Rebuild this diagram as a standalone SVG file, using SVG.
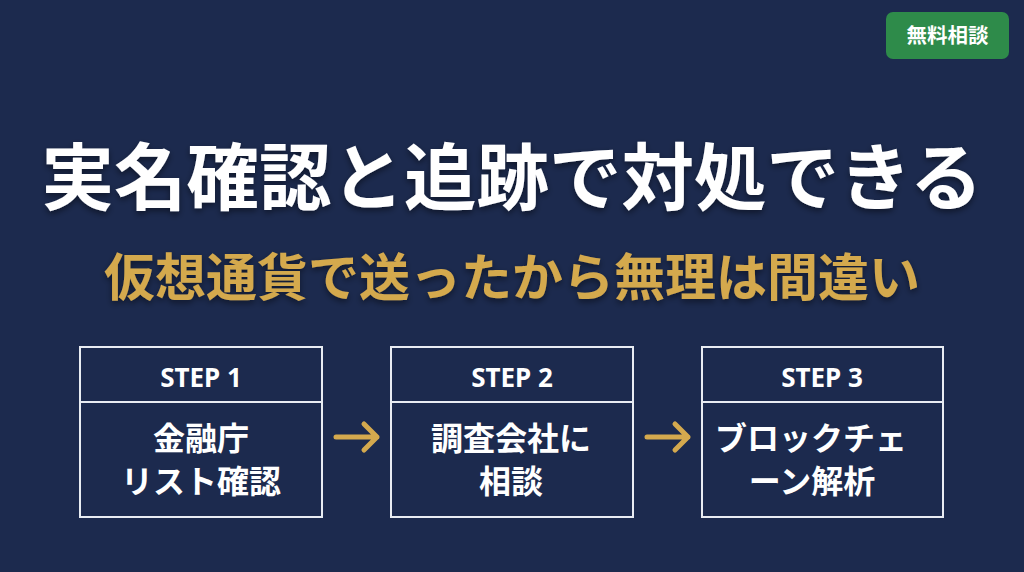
<svg xmlns="http://www.w3.org/2000/svg" width="1024" height="572" viewBox="0 0 1024 572">
<defs>
<style>
.jp{font-family:"Noto Sans CJK JP","Noto Sans",sans-serif;font-weight:700;text-anchor:middle}
.step{font-family:"Noto Sans","Open Sans",sans-serif;font-weight:700;font-size:26px;fill:#ffffff;text-anchor:middle}
.box{fill:none;stroke:#e8ecf2;stroke-width:2}
.body{font-size:32px;fill:#ffffff}
.arr{fill:none;stroke:#d4a94e;stroke-width:5;stroke-linecap:round;stroke-linejoin:round}
</style>
<filter id="sh" x="-10%" y="-20%" width="120%" height="150%">
<feDropShadow dx="0" dy="3" stdDeviation="3" flood-color="#000000" flood-opacity="0.45"/>
</filter>
</defs>
<rect width="1024" height="572" fill="#1c2a4e"/>
<g id="cta">
<rect x="886" y="12" width="123" height="47" rx="7" fill="#2e8b4a"/>
<text class="jp" x="947.5" y="43" font-size="20.5" fill="#ffffff">無料相談</text>
</g>
<g id="title" filter="url(#sh)">
<text class="jp" x="512" y="204" font-size="72.5" fill="#ffffff">実名確認と追跡で対処できる</text>
</g>
<g id="subtitle" filter="url(#sh)">
<text class="jp" x="512" y="296" font-size="51" fill="#d4a94e">仮想通貨で送ったから無理は間違い</text>
</g>
<g id="step1">
<rect class="box" x="80" y="347" width="242" height="170"/>
<line class="box" x1="80" y1="402" x2="322" y2="402"/>
<text class="step" x="201" y="387">STEP 1</text>
<text class="jp body" x="201" y="450">金融庁</text>
<text class="jp body" x="201" y="493">リスト確認</text>
</g>
<g id="step2">
<rect class="box" x="391" y="347" width="242" height="170"/>
<line class="box" x1="391" y1="402" x2="633" y2="402"/>
<text class="step" x="512" y="387">STEP 2</text>
<text class="jp body" x="511" y="450">調査会社に</text>
<text class="jp body" x="511" y="493">相談</text>
</g>
<g id="step3">
<rect class="box" x="702" y="347" width="241" height="170"/>
<line class="box" x1="702" y1="402" x2="943" y2="402"/>
<text class="step" x="822" y="387">STEP 3</text>
<text class="jp body" x="811" y="450">ブロックチェ</text>
<text class="jp body" x="812" y="493">ーン解析</text>
</g>
<g id="connectors">
<path class="arr" d="M336 437 H377 M364 424 L377 437 L364 450"/>
<path class="arr" d="M647 437 H688 M675 424 L688 437 L675 450"/>
</g>
</svg>
